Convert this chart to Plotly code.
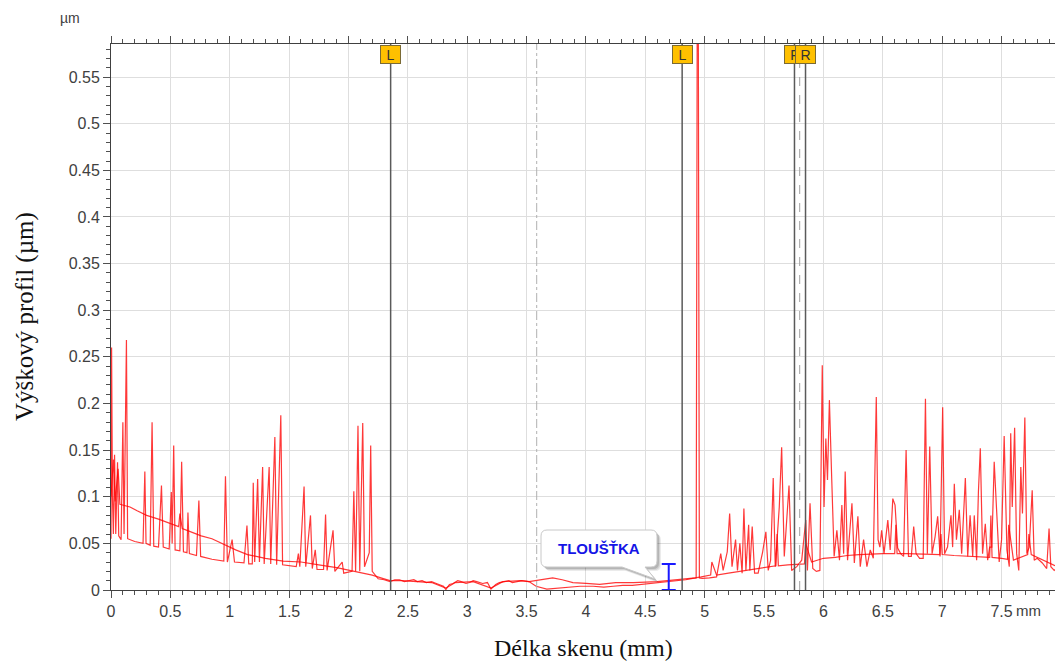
import plotly.graph_objects as go

# ---------------- data ----------------
profile_a_x = [0.0, 0.005, 0.012, 0.02, 0.03, 0.04, 0.055, 0.065, 0.085, 0.1, 0.11, 0.13, 0.14, 0.2, 0.27, 0.285,
               0.295, 0.33, 0.346, 0.36, 0.40, 0.425, 0.44, 0.49, 0.508, 0.515, 0.528, 0.54, 0.58, 0.595, 0.61,
               0.64, 0.648, 0.66, 0.72, 0.74, 0.755, 0.85, 0.95, 0.964, 0.98, 1.02, 1.04, 1.12, 1.145, 1.16, 1.19,
               1.198, 1.21, 1.235, 1.25, 1.277, 1.29, 1.332, 1.345, 1.38, 1.395, 1.43, 1.445, 1.5, 1.56, 1.578,
               1.59, 1.626, 1.64, 1.68, 1.695, 1.72, 1.735, 1.79, 1.807, 1.82, 1.87, 1.885, 1.947, 1.96, 2.03,
               2.045, 2.06, 2.08, 2.095, 2.12, 2.135, 2.175, 2.187, 2.2, 2.25, 2.3, 2.35, 2.39, 2.43, 2.47, 2.51,
               2.55, 2.58, 2.62, 2.655, 2.7, 2.74, 2.8, 2.82, 2.85, 2.88, 2.92, 2.95, 2.99, 3.02, 3.05, 3.08,
               3.13, 3.17, 3.2, 3.24, 3.27, 3.31, 3.35, 3.38, 3.41, 3.46, 3.52, 3.58, 3.67,
               3.78, 3.86, 3.95, 4.06, 4.15, 4.23, 4.31, 4.39, 4.47, 4.56, 4.66, 4.76, 4.84, 4.9, 4.928, 4.937,
               4.946, 4.955, 4.98, 5.04, 5.1, 5.135, 5.155,
               5.19, 5.21, 5.23, 5.26, 5.276, 5.296, 5.315, 5.33, 5.347, 5.37, 5.38, 5.4, 5.42, 5.45, 5.488,
               5.515, 5.535, 5.555, 5.577, 5.594, 5.628, 5.648, 5.67, 5.71, 5.732, 5.775, 5.817, 5.851, 5.865,
               5.887, 5.91, 5.94, 5.97, 5.99, 6.005, 6.02, 6.034, 6.05, 6.07, 6.09, 6.113, 6.135, 6.155, 6.17,
               6.183, 6.203, 6.24, 6.26, 6.29, 6.31, 6.338, 6.366, 6.394, 6.42, 6.445, 6.46, 6.475, 6.49, 6.51,
               6.542, 6.562, 6.584, 6.603, 6.625, 6.65, 6.675, 6.696, 6.716, 6.74, 6.76, 6.78, 6.81, 6.84, 6.859,
               6.875, 6.895, 6.915, 6.94, 6.962, 6.982, 7.004, 7.02, 7.045, 7.074, 7.088, 7.102, 7.12, 7.144,
               7.164, 7.195, 7.215, 7.235, 7.257, 7.27, 7.29, 7.305, 7.321, 7.34, 7.363, 7.383, 7.4, 7.418,
               7.438, 7.458, 7.48, 7.5, 7.522, 7.545, 7.565, 7.577, 7.59, 7.61, 7.627, 7.645, 7.662, 7.676,
               7.696, 7.713, 7.733, 7.758, 7.775, 7.8, 7.843, 7.88, 7.9, 7.915, 7.943, 7.95]
profile_a_y = [0.055, 0.26, 0.10, 0.06, 0.145, 0.06, 0.137, 0.058, 0.054, 0.18, 0.06, 0.268, 0.055, 0.052, 0.050,
               0.127, 0.05, 0.048, 0.18, 0.047, 0.046, 0.112, 0.046, 0.044, 0.105, 0.05, 0.155, 0.043, 0.042,
               0.1375, 0.041, 0.040, 0.083, 0.039, 0.037, 0.096, 0.036, 0.033, 0.031, 0.122, 0.030, 0.054,
               0.030, 0.029, 0.069, 0.028, 0.028, 0.115, 0.03, 0.119, 0.03, 0.132, 0.028, 0.132, 0.028, 0.164,
               0.027, 0.1875, 0.027, 0.026, 0.025, 0.039, 0.025, 0.111, 0.025, 0.08, 0.023, 0.043, 0.022, 0.022,
               0.081, 0.021, 0.064, 0.02, 0.030, 0.018, 0.02, 0.106, 0.02, 0.176, 0.02, 0.179, 0.025, 0.04,
               0.155, 0.02, 0.012, 0.011, 0.009, 0.011, 0.011, 0.009, 0.010, 0.011, 0.009, 0.010, 0.008, 0.009,
               0.007, 0.004, 0.0005, 0.006, 0.007, 0.010, 0.009, 0.007, 0.008, 0.010, 0.009,
               0.007, 0.008, 0.001, 0.006, 0.008, 0.009, 0.010, 0.008, 0.009, 0.010, 0.009, 0.004, 0.001,
               0.002, 0.003, 0.004, 0.004, 0.003, 0.004, 0.005, 0.005, 0.006, 0.007, 0.009, 0.010, 0.011,
               0.0125, 0.013, 0.62,
               0.62, 0.013, 0.0125, 0.013, 0.014, 0.039, 0.021, 0.041,
               0.082, 0.025, 0.054, 0.021, 0.05, 0.018, 0.0875, 0.021, 0.07, 0.021, 0.068, 0.018, 0.018, 0.041,
               0.0625, 0.021, 0.032, 0.12, 0.025, 0.089, 0.153, 0.036, 0.112, 0.021, 0.025, 0.032, 0.075, 0.021,
               0.093, 0.023, 0.02, 0.021, 0.241, 0.089, 0.1625, 0.118, 0.2036, 0.118, 0.036, 0.064, 0.032, 0.091,
               0.039, 0.127, 0.032, 0.093, 0.029, 0.079, 0.025, 0.054, 0.025, 0.043, 0.034, 0.207, 0.054, 0.046,
               0.064, 0.039, 0.075, 0.043, 0.098, 0.091, 0.045, 0.039, 0.036, 0.15, 0.036, 0.036, 0.068, 0.039,
               0.034, 0.034, 0.205, 0.039, 0.154, 0.039, 0.057, 0.079, 0.036, 0.196, 0.039, 0.046, 0.080, 0.046,
               0.114, 0.054, 0.086, 0.039, 0.12, 0.036, 0.080, 0.036, 0.080, 0.032, 0.105, 0.152, 0.039, 0.071,
               0.032, 0.046, 0.046, 0.1375, 0.082, 0.030, 0.054, 0.165, 0.043, 0.025, 0.168, 0.089, 0.174, 0.039,
               0.021, 0.132, 0.082, 0.185, 0.039, 0.046, 0.107, 0.032, 0.034, 0.029, 0.023, 0.066, 0.025, 0.021,
               0.022]

profile_b_x = [0.0, 0.02, 0.035, 0.06, 0.075, 0.12, 0.16, 0.22, 0.3, 0.4, 0.5, 0.57, 0.58, 0.6, 0.7, 0.76, 0.85,
               0.93, 0.99, 1.05, 1.15, 1.3, 1.45, 1.6, 1.75, 1.9, 2.05, 2.2, 2.3, 2.35, 2.45, 2.55, 2.7, 2.82,
               2.9, 3.05, 3.2, 3.3, 3.45, 3.52, 3.61, 3.72, 3.8, 3.89, 4.0, 4.115, 4.25, 4.4, 4.6, 4.8, 4.92,
               4.97, 5.05, 5.06, 5.1, 5.2, 5.3, 5.4, 5.5, 5.6, 5.61, 5.62, 5.7, 5.8, 5.84, 5.85, 5.9, 6.0, 6.1,
               6.2, 6.3, 6.5, 6.6, 6.61, 6.62, 6.7, 6.9, 6.98, 6.99, 7.0, 7.1, 7.3, 7.4, 7.41, 7.42, 7.5, 7.55,
               7.56, 7.6, 7.72, 7.73, 7.75, 7.85, 7.95]
profile_b_y = [0.10, 0.14, 0.095, 0.13, 0.092, 0.09, 0.089, 0.085, 0.080, 0.076, 0.071, 0.068, 0.082, 0.066,
               0.061, 0.058, 0.055, 0.05, 0.046, 0.043, 0.038, 0.034, 0.031, 0.03, 0.027, 0.024, 0.02, 0.016,
               0.012, 0.010, 0.010, 0.009, 0.008, 0.002, 0.008, 0.009, 0.002, 0.009, 0.010, 0.009, 0.011, 0.013,
               0.011, 0.008, 0.007, 0.006, 0.008, 0.008, 0.009, 0.011, 0.013, 0.014, 0.016, 0.03, 0.016, 0.018,
               0.02, 0.022, 0.024, 0.026, 0.06, 0.026, 0.027, 0.028, 0.028, 0.05, 0.03, 0.034, 0.035, 0.037,
               0.038, 0.039, 0.039, 0.07, 0.039, 0.039, 0.038, 0.038, 0.06, 0.038, 0.037, 0.036, 0.035, 0.08,
               0.035, 0.034, 0.033, 0.07, 0.032, 0.038, 0.06, 0.038, 0.032, 0.026]

x_tick_vals = [0, 0.5, 1, 1.5, 2, 2.5, 3, 3.5, 4, 4.5, 5, 5.5, 6, 6.5, 7, 7.5]
x_tick_text = ["0", "0.5", "1", "1.5", "2", "2.5", "3", "3.5", "4", "4.5", "5", "5.5", "6", "6.5", "7", "7.5"]
y_tick_vals = [0, 0.05, 0.1, 0.15, 0.2, 0.25, 0.3, 0.35, 0.4, 0.45, 0.5, 0.55]
y_tick_text = ["0", "0.05", "0.1", "0.15", "0.2", "0.25", "0.3", "0.35", "0.4", "0.45", "0.5", "0.55"]

cursor_labels = ["L", "L", "F", "R"]
cursor_x = [2.355, 4.81, 5.756, 5.849]
guide_dashdot_x = [3.585]
guide_dash_x = [5.80]

thickness_x = [4.697]
thickness_top = [0.028]
thickness_label = "TLOUŠŤKA"

# ---------------- layout geometry ----------------
W, H = 1055, 662
M_L, M_R, M_T, M_B = 111, 0, 44, 72
X_RANGE = [0, 7.95]
Y_RANGE = [0, 0.5855]
PW = W - M_L - M_R
PH = H - M_T - M_B


def px2x(px):
    return X_RANGE[0] + (px - M_L) / PW * (X_RANGE[1] - X_RANGE[0])


def py2y(py):
    return Y_RANGE[0] + (M_T + PH - py) / PH * (Y_RANGE[1] - Y_RANGE[0])


fig = go.Figure()

line_col = "rgba(255,0,0,0.78)"
fig.add_trace(go.Scatter(x=profile_b_x, y=profile_b_y, mode="lines",
                         line=dict(color=line_col, width=1.2), hoverinfo="skip", showlegend=False))
fig.add_trace(go.Scatter(x=profile_a_x, y=profile_a_y, mode="lines",
                         line=dict(color=line_col, width=1.2), hoverinfo="skip", showlegend=False))

# thickness I-beam
half = [t / 2 for t in thickness_top]
fig.add_trace(go.Scatter(x=thickness_x, y=half, mode="markers",
                         marker=dict(size=1, color="rgba(0,0,0,0)"),
                         error_y=dict(type="data", array=half, visible=True, color="#1a1aff",
                                      thickness=2, width=7),
                         hoverinfo="skip", showlegend=False))

shapes = []
for gx in guide_dashdot_x:
    shapes.append(dict(type="line", xref="x", yref="paper", x0=gx, x1=gx, y0=0, y1=1,
                       line=dict(color="#b0b0b0", width=1, dash="dashdot"), layer="above"))
for gx in guide_dash_x:
    shapes.append(dict(type="line", xref="x", yref="paper", x0=gx, x1=gx, y0=0, y1=1,
                       line=dict(color="#a0a0a0", width=1, dash="dash"), layer="above"))
for cx in cursor_x:
    shapes.append(dict(type="line", xref="x", yref="paper", x0=cx, x1=cx, y0=0, y1=1,
                       line=dict(color="#5a5a5a", width=1.5), layer="above"))


def bubble_path(x0, y0, x1, y1, r, tail):
    (ta, tip, tb) = tail
    pts = []
    pts.append(f"M{px2x(x0 + r)},{py2y(y0)}")
    pts.append(f"L{px2x(x1 - r)},{py2y(y0)}")
    pts.append(f"Q{px2x(x1)},{py2y(y0)} {px2x(x1)},{py2y(y0 + r)}")
    pts.append(f"L{px2x(x1)},{py2y(y1 - r)}")
    pts.append(f"Q{px2x(x1)},{py2y(y1)} {px2x(x1 - r)},{py2y(y1)}")
    pts.append(f"L{px2x(tb)},{py2y(y1)}")
    pts.append(f"L{px2x(tip[0])},{py2y(tip[1])}")
    pts.append(f"L{px2x(ta)},{py2y(y1)}")
    pts.append(f"L{px2x(x0 + r)},{py2y(y1)}")
    pts.append(f"Q{px2x(x0)},{py2y(y1)} {px2x(x0)},{py2y(y1 - r)}")
    pts.append(f"L{px2x(x0)},{py2y(y0 + r)}")
    pts.append(f"Q{px2x(x0)},{py2y(y0)} {px2x(x0 + r)},{py2y(y0)}")
    pts.append("Z")
    return " ".join(pts)


bx0, by0, bx1, by1 = 541, 530, 657, 567
for off, alpha in [(4, 0.08), (3, 0.10), (2, 0.14)]:
    shapes.append(dict(type="path", xref="x", yref="y",
                       path=bubble_path(bx0 + off, by0 + off, bx1 + off, by1 + off, 6,
                                        (622 + off, (655 + off, 579 + off), 645 + off)),
                       fillcolor=f"rgba(0,0,0,{alpha})", line=dict(width=0), layer="above"))
shapes.append(dict(type="path", xref="x", yref="y",
                   path=bubble_path(bx0, by0, bx1, by1, 6, (622, (655, 579), 645)),
                   fillcolor="white", line=dict(color="#c8c8c8", width=1), layer="above"))

annotations = []
annotations.append(dict(x=px2x((bx0 + bx1) / 2), y=py2y((by0 + by1) / 2), xref="x", yref="y",
                        text=f"<b>{thickness_label}</b>", showarrow=False,
                        font=dict(family="Liberation Sans, Arial", size=15, color="#1515e6"),
                        xanchor="center", yanchor="middle"))

for lab, cx in zip(cursor_labels, cursor_x):
    annotations.append(dict(x=cx, y=1, xref="x", yref="paper", yanchor="top", xanchor="center",
                            yshift=-1, text=lab, showarrow=False, width=17, height=15,
                            bgcolor="#FFC000", bordercolor="#7a6a35", borderwidth=1, borderpad=1,
                            font=dict(family="Liberation Sans, Arial", size=14, color="#333333")))

annotations.append(dict(x=-41 / PW, y=1 + 26 / PH, xref="paper", yref="paper", text="µm",
                        showarrow=False, xanchor="center", yanchor="middle",
                        font=dict(family="Liberation Sans, Arial", size=14, color="#404040")))
annotations.append(dict(x=7.5, y=0, xref="x", yref="paper", text="mm", showarrow=False,
                        xanchor="left", yanchor="top", xshift=12, yshift=-10,
                        font=dict(family="Liberation Sans, Arial", size=15, color="#404040")))
annotations.append(dict(x=0.5, y=-(648 - (M_T + PH)) / PH, xref="paper", yref="paper",
                        text="Délka skenu (mm)", showarrow=False, xanchor="center", yanchor="middle",
                        font=dict(family="Liberation Serif, Times New Roman", size=24, color="#111111")))
annotations.append(dict(x=-(M_L - 25) / PW, y=0.5, xref="paper", yref="paper",
                        text="Výškový profil (µm)", showarrow=False, textangle=-90,
                        xanchor="center", yanchor="middle",
                        font=dict(family="Liberation Serif, Times New Roman", size=25, color="#111111")))

axis_common = dict(showline=True, linecolor="#404040", linewidth=1, mirror="allticks",
                   ticks="outside", ticklen=7, tickcolor="#505050", showgrid=True,
                   gridcolor="#dedede", gridwidth=1, zeroline=False,
                   tickfont=dict(family="Liberation Sans, Arial", size=16, color="#404040"))

fig.update_layout(
    width=W, height=H, margin=dict(l=M_L, r=M_R, t=M_T, b=M_B, autoexpand=False),
    paper_bgcolor="white", plot_bgcolor="white",
    xaxis=dict(range=X_RANGE, tickmode="array", tickvals=x_tick_vals, ticktext=x_tick_text,
               minor=dict(dtick=0.1, tick0=0, ticks="outside", ticklen=4, tickcolor="#505050",
                          showgrid=False), **axis_common),
    yaxis=dict(range=Y_RANGE, tickmode="array", tickvals=y_tick_vals, ticktext=y_tick_text,
               minor=dict(dtick=0.01, tick0=0, ticks="outside", ticklen=4, tickcolor="#505050",
                          showgrid=False), **axis_common),
    shapes=shapes, annotations=annotations, showlegend=False,
)

fig.write_html("out.html", config={"displayModeBar": False},
               post_script="document.body.style.margin='0';document.body.style.overflow='hidden';")
